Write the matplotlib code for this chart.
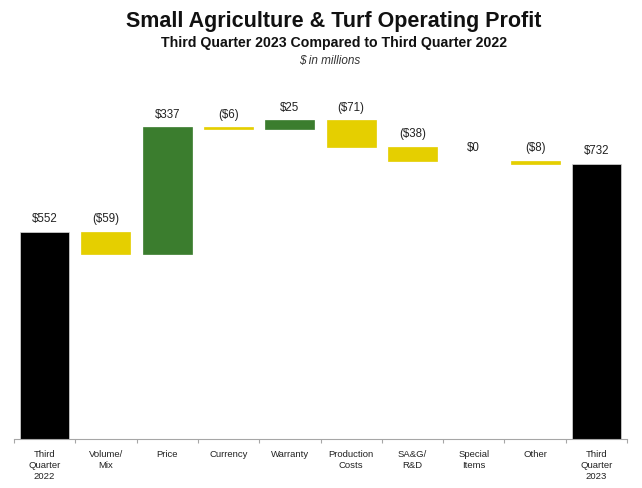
import numpy as np
import matplotlib
matplotlib.use("Agg")
import matplotlib.pyplot as plt
from matplotlib.ticker import FixedLocator, NullLocator

plt.rcParams['font.family'] = ['Liberation Sans', 'DejaVu Sans']

categories = ["Third\nQuarter\n2022", "Volume/\nMix", "Price", "Currency", "Warranty",
              "Production\nCosts", "SA&G/\nR&D", "Special\nItems", "Other", "Third\nQuarter\n2023"]
start_value = 552
deltas = [-59, 337, -6, 25, -71, -38, 0, -8]
end_value = 732

GREEN = "#3b7d2e"
YELLOW = "#e5cf00"
BLACK = "#000000"

fig = plt.figure(figsize=(6.42, 4.89), dpi=100)
W, H = 642, 489
ax_left, ax_right = 14, 627
ax_bottom, ax_top = 440, 100
ax = fig.add_axes([ax_left / W, 1 - ax_bottom / H, (ax_right - ax_left) / W, (ax_bottom - ax_top) / H])

px_per_unit = 0.3757
scale_max = (ax_bottom - ax_top) / px_per_unit
ax.set_ylim(0, scale_max)
ax.set_xlim(-0.5, len(categories) - 0.5)

bw = 0.8
label_off = 13.5 / px_per_unit
lbl_size = 8.3

def fmt(v):
    if v < 0:
        return f"(${-v:,.0f})"
    return f"${v:,.0f}"

# starting total
ax.bar(0, start_value, width=bw, color=BLACK, edgecolor="#d9d9d9", linewidth=0.5)
ax.text(0, start_value + label_off, fmt(start_value), ha='center', va='center', fontsize=lbl_size, color="#222222")

level = start_value
for i, d in enumerate(deltas, start=1):
    new_level = level + d
    lo, hi = min(level, new_level), max(level, new_level)
    if d != 0:
        color = GREEN if d > 0 else YELLOW
        ax.bar(i, hi - lo, bottom=lo, width=bw, color=color, edgecolor=color, linewidth=0.5)
    ax.text(i, hi + label_off, fmt(d), ha='center', va='center', fontsize=lbl_size, color="#222222")
    level = new_level

n = len(categories) - 1
ax.bar(n, end_value, width=bw, color=BLACK, edgecolor="#d9d9d9", linewidth=0.5)
ax.text(n, end_value + label_off, fmt(end_value), ha='center', va='center', fontsize=lbl_size, color="#222222")

for s in ["top", "right", "left"]:
    ax.spines[s].set_visible(False)
ax.spines["bottom"].set_color("#a6a6a6")
ax.spines["bottom"].set_linewidth(0.8)
ax.yaxis.set_major_locator(NullLocator())

ax.set_xticks(range(len(categories)))
ax.set_xticklabels(categories, fontsize=6.8, color="#222222", linespacing=1.3)
ax.xaxis.set_minor_locator(FixedLocator(np.arange(-0.5, len(categories), 1.0)))
ax.tick_params(axis='x', which='major', length=0, pad=7)
ax.tick_params(axis='x', which='minor', length=3, color="#a6a6a6", width=0.8)

fig.text(334 / W, 1 - 21 / H, "Small Agriculture & Turf Operating Profit", ha='center', va='center',
         fontsize=15.5, fontweight='bold', color="#111111")
fig.text(334 / W, 1 - 43 / H, "Third Quarter 2023 Compared to Third Quarter 2022", ha='center', va='center',
         fontsize=10.2, fontweight='bold', color="#111111")
fig.text(330 / W, 1 - 61 / H, "$ in millions", ha='center', va='center',
         fontsize=8.5, style='italic', color="#333333")

fig.savefig("out.png", dpi=100)
